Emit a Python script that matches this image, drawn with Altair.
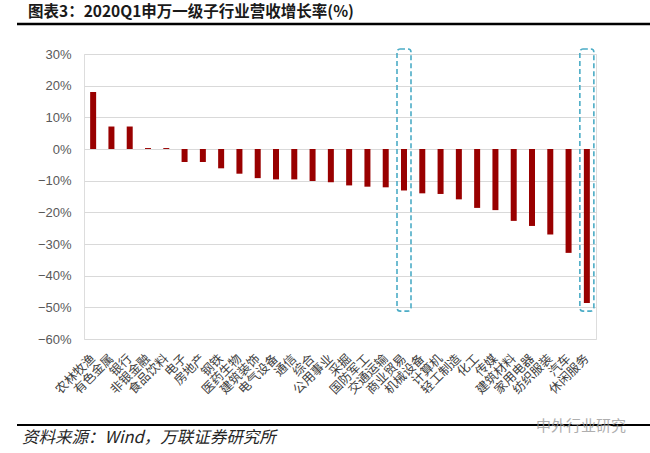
import altair as alt
import pandas as pd

categories = ["农林牧渔", "有色金属", "银行", "非银金融", "食品饮料", "电子", "房地产",
              "钢铁", "医药生物", "建筑装饰", "电气设备", "通信", "综合", "公用事业",
              "采掘", "国防军工", "交通运输", "商业贸易", "机械设备", "计算机", "轻工制造",
              "化工", "传媒", "建筑材料", "家用电器", "纺织服装", "汽车", "休闲服务"]
growth = [18.0, 7.1, 7.1, 0.3, 0.3, -4.1, -4.1, -6.1, -7.8, -9.2, -9.6, -9.6, -10.1, -10.5,
          -11.5, -11.9, -12.1, -13.1, -14.0, -14.2, -15.9, -18.6, -19.3, -22.7, -24.3,
          -27.0, -32.8, -48.6]
highlight = ["商业贸易", "休闲服务"]
box_top = [31.6, 31.6]
box_bottom = [-51.2, -51.2]
y_ticks = [30, 20, 10, 0, -10, -20, -30, -40, -50, -60]

title_text = "图表3：2020Q1申万一级子行业营收增长率(%)"
source_text = "资料来源：Wind，万联证券研究所"
mark_text_wm = "中外行业研究"

df = pd.DataFrame({"cat": categories, "val": growth})
boxes = pd.DataFrame({"cat": highlight, "top": box_top, "bottom": box_bottom})
one = pd.DataFrame({"k": [0]})

CJK = "Noto Sans CJK SC"

x_enc = alt.X("cat:N", sort=categories,
              scale=alt.Scale(domain=categories, paddingInner=0, paddingOuter=0),
              axis=alt.Axis(title=None, labelAngle=-45, labelAlign="right",
                            labelBaseline="middle", labelFont=CJK, labelFontSize=12.5,
                            labelColor="#404040", labelPadding=17, domain=False,
                            ticks=False, grid=False, labelLimit=200,
                            labelOverlap=False))

y_scale = alt.Scale(domain=[-60, 30], nice=False, zero=False)

bars = alt.Chart(df).mark_bar(color="#990000", size=6).encode(
    x=x_enc,
    y=alt.Y("val:Q", scale=y_scale,
            axis=alt.Axis(title=None, values=y_ticks, tickCount=10,
                          labelExpr="format(datum.value, 'd') + '%'",
                          labelFont="Liberation Sans", labelFontSize=13,
                          labelColor="#595959", labelPadding=13,
                          labelOverlap=False,
                          domain=False, ticks=False, grid=True,
                          gridColor="#d9d9d9", gridWidth=1.2)),
)

box_layer = alt.Chart(boxes).mark_bar(
    size=14, fill="white", fillOpacity=0, stroke="#4bacc6", strokeWidth=1.6,
    strokeDash=[5, 3], cornerRadius=3
).encode(
    x=alt.X("cat:N", sort=categories),
    y=alt.Y("top:Q", scale=y_scale),
    y2="bottom:Q",
)

title = alt.Chart(one).mark_text(
    text=title_text, align="left", baseline="middle", font=CJK, fontSize=15.5,
    fontWeight="bold", color="#1a1a1a"
).encode(x=alt.value(-56), y=alt.value(-42))

top_line = alt.Chart(one).mark_rule(color="#000000", strokeWidth=2.5).encode(
    x=alt.value(-67), x2=alt.value(566), y=alt.value(-30))

bottom_line = alt.Chart(one).mark_rule(color="#000000", strokeWidth=2).encode(
    x=alt.value(-67), x2=alt.value(566), y=alt.value(371))

source = alt.Chart(one).mark_text(
    text=source_text, align="left", baseline="middle", font=CJK, fontSize=16.5,
    fontStyle="italic", color="#262626"
).encode(x=alt.value(-62), y=alt.value(384))

wm = alt.Chart(one).mark_text(
    text=mark_text_wm, align="left", baseline="middle", font=CJK, fontSize=15,
    color="#9a9a9a", opacity=0.8
).encode(x=alt.value(452), y=alt.value(372))

chart = alt.layer(bars, box_layer, title, top_line, bottom_line, source, wm).properties(
    width=512, height=285,
    autosize=alt.AutoSizeParams(type="none"),
    padding={"left": 84, "top": 54, "right": 54, "bottom": 114},
).configure_view(stroke=None).configure(background="white")

chart.save("out.html", embed_options={"renderer": "svg", "actions": False})
